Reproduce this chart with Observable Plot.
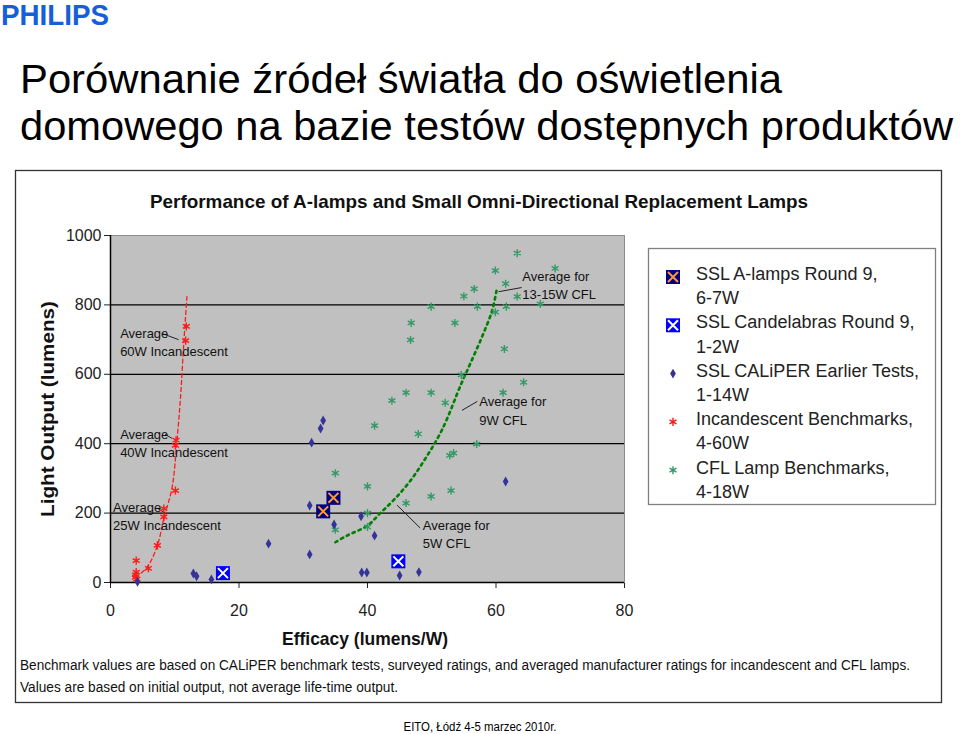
<!DOCTYPE html>
<html><head><meta charset="utf-8">
<script src="https://cdn.jsdelivr.net/npm/d3@7"></script>
<script src="https://cdn.jsdelivr.net/npm/@observablehq/plot@0.6"></script>
<style>
body{margin:0;background:#fff;}
#page{position:relative;width:960px;height:734px;overflow:hidden;font-family:"Liberation Sans",Arial,sans-serif;}
#overlay{position:absolute;left:0;top:0;}
#chart{position:absolute;left:0;top:220px;}
</style></head><body>
<div id="page"><svg id="overlay" width="960" height="734"></svg><div id="chart"></div></div>
<script>
// ---- data (efficacy lm/W, light output lm) ----
const incEff = [11.8, 11.7, 10.2, 10.1, 10.1, 8.3, 8.3, 7.3, 5.9, 4.0, 3.9, 4.0, 4.1, 3.9];
const incLm  = [738, 697, 410, 395, 265, 213, 189, 107, 41, 63, 22, 30, 10, 15];

const caliperEff = [33.1, 32.7, 31.3, 31.0, 24.6, 31.0, 12.9, 13.4, 15.7, 4.2, 34.8, 39.0, 39.1, 39.9, 41.1, 45.0, 48.0, 61.5];
const caliperLm  = [467, 444, 403, 222, 112, 81, 26, 18, 9, 2, 167, 191, 29, 29, 135, 20, 30, 291];

const aLampEff = [34.7, 33.1];
const aLampLm  = [244, 205];

const candEff = [17.5, 44.8];
const candLm  = [27, 61];

const cflEff = [63.3, 59.9, 69.2, 61.5, 56.6, 55.0, 63.3, 49.9, 57.1, 61.6, 66.9, 59.9, 46.8, 53.6, 46.7, 61.3, 54.6, 64.3, 46.0, 49.9, 43.8, 52.1, 61.1, 41.1, 47.9, 57.0, 52.8, 53.4, 40.0, 53.0, 49.9, 46.0, 40.0, 40.0, 35.0, 35.0];
const cflLm  = [949, 899, 905, 861, 846, 825, 824, 795, 795, 795, 803, 779, 748, 748, 699, 673, 598, 577, 547, 547, 524, 518, 547, 452, 428, 399, 366, 373, 277, 265, 248, 229, 200, 160, 315, 152];

const incTrendEff = [3.9, 5.7, 7.3, 8.3, 9.6, 10.3, 10.9, 11.4, 11.9];
const incTrendLm  = [15, 44, 107, 184, 275, 400, 534, 688, 824];

const cflTrendEff = [35.0, 36.8, 40.0, 42.0, 44.3, 46.7, 49.0, 51.6, 54.6, 56.0, 57.8, 59.4, 60.1];
const cflTrendLm  = [116, 135, 164, 200, 242, 294, 357, 440, 573, 631, 707, 784, 843];

const xTicks = [0, 20, 40, 60, 80];
const yTicks = [0, 200, 400, 600, 800, 1000];
const gridY = [200, 400, 600, 800];

const noteText = ["Average\n60W Incandescent", "Average\n40W Incandescent", "Average\n25W Incandescent", "Average for\n13-15W CFL", "Average for\n9W CFL", "Average for\n5W CFL"];
const noteEff  = [1.5, 1.5, 0.4, 64.1, 57.4, 48.6];
const noteLm   = [695, 404, 194, 859, 498, 142];
const leadEff1 = [8.1, 8.5, 7.3, 64.0, 57.1, 48.2];
const leadLm1  = [717, 427, 214, 850, 522, 157];
const leadEff2 = [10.6, 9.6, 8.5, 60.4, 54.7, 44.6];
const leadLm2  = [700, 415, 200, 838, 496, 223];

const legendLabels = [["SSL A-lamps Round 9,", "6-7W"], ["SSL Candelabras Round 9,", "1-2W"], ["SSL CALiPER Earlier Tests,", "1-14W"], ["Incandescent Benchmarks,", "4-60W"], ["CFL Lamp Benchmarks,", "4-18W"]];

const titleLines = ["Porównanie źródeł światła do oświetlenia", "domowego na bazie testów dostępnych produktów"];
const chartTitle = "Performance of A-lamps and Small Omni-Directional Replacement Lamps";
const xLabel = "Efficacy (lumens/W)";
const yLabel = "Light Output (lumens)";
const notes = ["Benchmark values are based on CALiPER benchmark tests, surveyed ratings, and averaged manufacturer ratings for incandescent and CFL lamps.", "Values are based on initial output, not average life-time output."];
const footer = "EITO, Łódź 4-5 marzec 2010r.";

// ---- build tables ----
const zip = (xs, ys) => xs.map((x, i) => ({x, y: ys[i]}));
const inc = zip(incEff, incLm), cal = zip(caliperEff, caliperLm), aL = zip(aLampEff, aLampLm),
      cand = zip(candEff, candLm), cfl = zip(cflEff, cflLm),
      incT = zip(incTrendEff, incTrendLm), cflT = zip(cflTrendEff, cflTrendLm);
const notesData = noteText.map((t, i) => ({t, x: noteEff[i], y: noteLm[i], x1: leadEff1[i], y1: leadLm1[i], x2: leadEff2[i], y2: leadLm2[i]}));

const RED = "#ff1a1a", NAVY = "#333399", GREEN = "#339966", DKGREEN = "#008000";
const sans = "'Liberation Sans',Arial,sans-serif";

const chart = Plot.plot({
  width: 660, height: 440,
  marginLeft: 110, marginRight: 36, marginTop: 15, marginBottom: 78,
  style: {background: "none", fontFamily: sans, fontSize: "16px", color: "#222"},
  x: {domain: [0, 80], ticks: xTicks, label: null, tickSize: 6, tickPadding: 16, tickFormat: d => String(d)},
  y: {domain: [0, 1000], ticks: yTicks, label: null, tickSize: 6, tickPadding: 3, tickFormat: d => String(d)},
  marks: [
    Plot.frame({fill: "#c0c0c0", stroke: "#8c8c8c"}),
    Plot.ruleY(gridY, {stroke: "#000", strokeWidth: 1.2}),
    Plot.ruleX([0], {stroke: "#000", strokeWidth: 1.5}),
    Plot.ruleY([0], {stroke: "#000", strokeWidth: 1.5}),
    Plot.line(incT, {x: "x", y: "y", stroke: RED, strokeWidth: 1.3, strokeDasharray: "4,3", curve: "catmull-rom"}),
    Plot.line(cflT, {x: "x", y: "y", stroke: DKGREEN, strokeWidth: 2.6, strokeDasharray: "2.5,4", curve: "catmull-rom"}),
    Plot.link(notesData, {x1: "x1", y1: "y1", x2: "x2", y2: "y2", stroke: "#222", strokeWidth: 1}),
    Plot.text(notesData, {x: "x", y: "y", text: "t", textAnchor: "start", lineAnchor: "middle", lineHeight: 1.4, fontSize: 13, fontFamily: sans, fill: "#111"}),
    Plot.dot(cfl, {x: "x", y: "y", symbol: "asterisk", r: 3.8, stroke: GREEN, strokeWidth: 1.4}),
    Plot.dot(inc, {x: "x", y: "y", symbol: "asterisk", r: 3.8, stroke: RED, strokeWidth: 1.4}),
    Plot.dot(cal, {x: "x", y: "y", symbol: "diamond", r: 3, fill: NAVY, stroke: "none"}),
    Plot.dot(aL, {x: "x", y: "y", symbol: "square", r: 7.9, fill: "#000080", stroke: "none"}),
    Plot.dot(aL, {x: "x", y: "y", symbol: "times", r: 4.6, stroke: "#ff9933", strokeWidth: 2}),
    Plot.dot(cand, {x: "x", y: "y", symbol: "square", r: 7.9, fill: "#0000ff", stroke: "none"}),
    Plot.dot(cand, {x: "x", y: "y", symbol: "times", r: 4.6, stroke: "#ffffff", strokeWidth: 2})
  ]
});
document.getElementById("chart").appendChild(chart);

// ---- surrounding texts, frame and legend ----
const o = d3.select("#overlay");
const txt = (s, x, y, size, opts = {}) => {
  const t = o.append("text").attr("x", x).attr("y", y).attr("font-size", size)
    .attr("font-family", opts.family || sans)
    .attr("fill", opts.fill || "#000").text(s);
  if (opts.weight) t.attr("font-weight", opts.weight);
  if (opts.anchor) t.attr("text-anchor", opts.anchor);
  if (opts.len) t.attr("textLength", opts.len).attr("lengthAdjust", "spacingAndGlyphs");
  if (opts.transform) t.attr("transform", opts.transform);
  return t;
};
txt("PHILIPS", 1, 25, 29, {weight: 900, fill: "#1560d8", len: 108});
txt(titleLines[0], 20, 93, 41, {len: 762});
txt(titleLines[1], 20, 140, 41, {len: 933});
o.append("rect").attr("x", 15.5).attr("y", 170.5).attr("width", 926).attr("height", 532)
  .attr("fill", "#fff").attr("stroke", "#333").attr("stroke-width", 1.3);
txt(chartTitle, 150, 208, 19, {weight: "bold", len: 658, fill: "#111"});
txt(yLabel, 0, 0, 18, {weight: "bold", len: 216, anchor: "middle", fill: "#111", transform: "translate(54,409) rotate(-90)"});
txt(xLabel, 365, 645, 19, {weight: "bold", len: 166, anchor: "middle", fill: "#111"});
txt(notes[0], 20, 670, 14, {len: 890, fill: "#111"});
txt(notes[1], 20, 692, 14, {len: 378, fill: "#111"});
txt(footer, 480, 731, 12, {anchor: "middle", len: 153});

// legend
o.append("rect").attr("x", 648.5).attr("y", 248.5).attr("width", 287).attr("height", 256)
  .attr("fill", "#fff").attr("stroke", "#808080").attr("stroke-width", 1.3);
legendLabels.forEach((pair, k) => {
  pair.forEach((s, j) => txt(s, 696, 280 + (2 * k + j) * 24.2, 18, {fill: "#222"}));
});
const sym = (type, r) => d3.symbol(type, Math.PI * r * r)();
const mk = (k) => o.append("g").attr("transform", `translate(673,${277 + k * 48.3})`);
mk(0).call(g => { g.append("path").attr("d", sym(d3.symbolSquare, 7.9)).attr("fill", "#000080");
                  g.append("path").attr("d", sym(d3.symbolTimes, 4.6)).attr("stroke", "#ff9933").attr("stroke-width", 2).attr("fill", "none"); });
mk(1).call(g => { g.append("path").attr("d", sym(d3.symbolSquare, 7.9)).attr("fill", "#0000ff");
                  g.append("path").attr("d", sym(d3.symbolTimes, 4.6)).attr("stroke", "#fff").attr("stroke-width", 2).attr("fill", "none"); });
mk(2).append("path").attr("d", sym(d3.symbolDiamond, 3)).attr("fill", NAVY);
mk(3).append("path").attr("d", sym(d3.symbolAsterisk, 3.8)).attr("stroke", RED).attr("stroke-width", 1.4).attr("fill", "none");
mk(4).append("path").attr("d", sym(d3.symbolAsterisk, 3.8)).attr("stroke", GREEN).attr("stroke-width", 1.4).attr("fill", "none");
</script>
</body></html>
